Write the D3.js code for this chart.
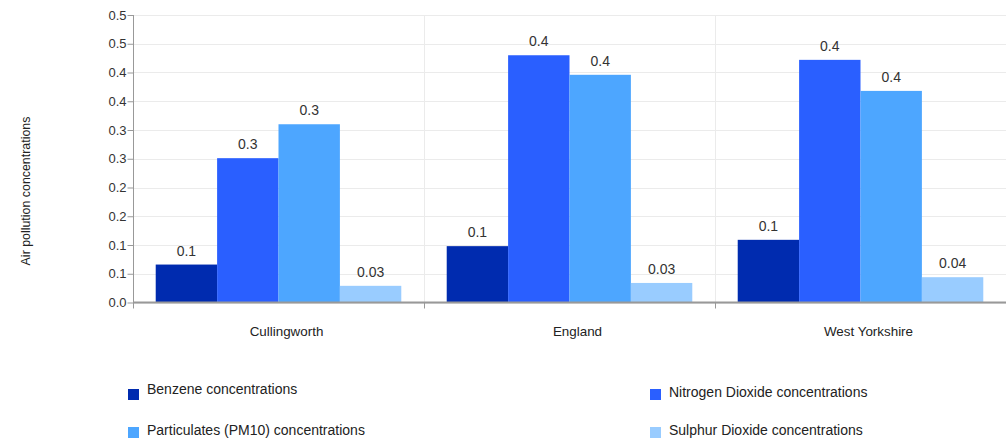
<!DOCTYPE html>
<html>
<head>
<meta charset="utf-8">
<script src="https://cdn.jsdelivr.net/npm/d3@7"></script>
<style>
  html, body { margin: 0; padding: 0; background: #fff; }
  svg { display: block; font-family: "Liberation Sans", Arial, sans-serif; }
</style>
</head>
<body>
<svg id="chart" width="1006" height="440"></svg>
<script>
const categories = ["Cullingworth", "England", "West Yorkshire"];
const seriesNames = ["Benzene concentrations", "Nitrogen Dioxide concentrations", "Particulates (PM10) concentrations", "Sulphur Dioxide concentrations"];
const benzene = [0.066, 0.098, 0.109];
const nitrogenDioxide = [0.251, 0.430, 0.422];
const particulates = [0.310, 0.396, 0.368];
const sulphurDioxide = [0.029, 0.034, 0.044];
const seriesColors = ["#002BAF", "#2A5FFF", "#4DA6FF", "#99CCFF"];
const yTickValues = [0, 0.05, 0.1, 0.15, 0.2, 0.25, 0.3, 0.35, 0.4, 0.45, 0.5];
const yTickLabels = ["0.0", "0.1", "0.1", "0.2", "0.2", "0.3", "0.3", "0.4", "0.4", "0.5", "0.5"];
const yTitle = "Air pollution concentrations";

(function () {
const seriesValues = [benzene, nitrogenDioxide, particulates, sulphurDioxide];
const rows = [];
categories.forEach((c, ci) => {
  seriesNames.forEach((s, si) => rows.push({ cat: c, series: s, si: si, value: seriesValues[si][ci] }));
});

const svg = d3.select("#chart");
const pLeft = 133, pRight = 1006, pTop = 15, pBottom = 302.5;

const x = d3.scaleBand().domain(categories).range([pLeft, pRight]).paddingInner(0).paddingOuter(0);
const xi = d3.scaleBand().domain(seriesNames).range([0, x.bandwidth()]).paddingInner(0).paddingOuter(0.37);
const y = d3.scaleLinear().domain([0, 0.5]).range([pBottom, pTop]);

// horizontal gridlines
svg.append("g").selectAll("line").data(yTickValues).join("line")
  .attr("x1", pLeft).attr("x2", pRight)
  .attr("y1", d => Math.round(y(d)) + 0.5).attr("y2", d => Math.round(y(d)) + 0.5)
  .attr("stroke", "#ebebeb").attr("stroke-width", 1);

// vertical gridlines at category boundaries
svg.append("g").selectAll("line").data(categories.slice(1)).join("line")
  .attr("x1", d => Math.round(x(d)) + 0.5).attr("x2", d => Math.round(x(d)) + 0.5)
  .attr("y1", pTop).attr("y2", pBottom)
  .attr("stroke", "#ebebeb").attr("stroke-width", 1);

// bars
svg.append("g").selectAll("rect").data(rows).join("rect")
  .attr("x", d => x(d.cat) + xi(d.series))
  .attr("width", xi.bandwidth())
  .attr("y", d => y(d.value))
  .attr("height", d => y(0) - y(d.value))
  .attr("fill", d => seriesColors[d.si]);

// value labels
const fmt = v => v < 0.05 ? d3.format(".2f")(v) : d3.format(".1f")(v);
svg.append("g").selectAll("text").data(rows).join("text")
  .attr("x", d => x(d.cat) + xi(d.series) + xi.bandwidth() / 2)
  .attr("y", d => y(d.value) - 9)
  .attr("text-anchor", "middle")
  .attr("font-size", 14)
  .attr("fill", "#333")
  .text(d => fmt(d.value));

// y axis
const yAxis = d3.axisLeft(y).tickValues(yTickValues).tickFormat((d, i) => yTickLabels[i]).tickSize(6).tickPadding(1);
const yg = svg.append("g").attr("transform", `translate(${pLeft + 0.5},0)`).call(yAxis);
yg.select(".domain").attr("stroke", "#999").attr("d", `M0,${pTop}V${pBottom + 6}`);
yg.selectAll(".tick line").attr("stroke", "#999");
yg.selectAll(".tick text").attr("font-size", 13).attr("fill", "#333").attr("font-family", "Liberation Sans, Arial, sans-serif");

// x baseline
svg.append("line")
  .attr("x1", pLeft).attr("x2", pRight)
  .attr("y1", pBottom).attr("y2", pBottom)
  .attr("stroke", "#999").attr("stroke-width", 2);

// x ticks at boundaries
svg.append("g").selectAll("line").data(categories.slice(1)).join("line")
  .attr("x1", d => Math.round(x(d)) + 0.5).attr("x2", d => Math.round(x(d)) + 0.5)
  .attr("y1", pBottom).attr("y2", pBottom + 6)
  .attr("stroke", "#999");

// category labels
svg.append("g").selectAll("text").data(categories).join("text")
  .attr("x", d => x(d) + x.bandwidth() / 2 + 8)
  .attr("y", 336)
  .attr("text-anchor", "middle")
  .attr("font-size", 13.4)
  .attr("fill", "#222")
  .text(d => d);

// y title
svg.append("text")
  .attr("transform", "translate(30,191) rotate(-90)")
  .attr("text-anchor", "middle")
  .attr("font-size", 12.4)
  .attr("fill", "#222")
  .text(yTitle);

// legend
const legendPos = [[128, 389, 393.5], [650, 389, 396.5], [128, 427, 434.8], [650, 427, 435]];
const lg = svg.append("g").selectAll("g").data(seriesNames).join("g");
lg.append("rect")
  .attr("x", (d, i) => legendPos[i][0]).attr("y", (d, i) => legendPos[i][1])
  .attr("width", 11).attr("height", 11).attr("fill", (d, i) => seriesColors[i]);
lg.append("text")
  .attr("x", (d, i) => legendPos[i][0] + 19).attr("y", (d, i) => legendPos[i][2])
  .attr("font-size", 14).attr("fill", "#222").text(d => d);
})();
</script>
</body>
</html>
